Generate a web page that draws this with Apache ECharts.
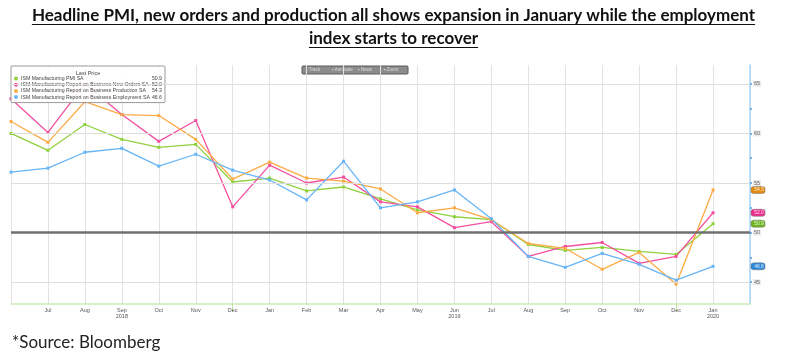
<!DOCTYPE html>
<html><head><meta charset="utf-8">
<script src="https://cdn.jsdelivr.net/npm/echarts@6/dist/echarts.min.js"></script>
<style>html,body{margin:0;padding:0;background:#fff}#c{width:787px;height:362px}</style>
</head><body><div id="c"></div>
<script>
const categories = ['Jun','Jul','Aug','Sep\n2018','Oct','Nov','Dec','Jan','Feb','Mar','Apr','May','Jun\n2019','Jul','Aug','Sep','Oct','Nov','Dec','Jan\n2020',''];
const seriesNames = ['ISM Manufacturing PMI SA','ISM Manufacturing Report on Business New Orders SA','ISM Manufacturing Report on Business Production SA','ISM Manufacturing Report on Business Employment SA'];
const pmi        = [60.0,58.3,60.9,59.4,58.6,58.9,55.1,55.5,54.2,54.6,53.4,52.3,51.6,51.3,48.8,48.2,48.5,48.1,47.8,50.9];
const newOrders  = [63.5,60.1,65.0,61.9,59.2,61.3,52.6,56.8,55.0,55.6,53.1,52.6,50.5,51.1,47.6,48.6,49.0,46.9,47.6,52.0];
const production = [61.2,59.1,63.2,61.9,61.8,59.4,55.4,57.1,55.5,55.2,54.4,52.0,52.5,51.3,48.9,48.4,46.3,48.0,44.8,54.3];
const employment = [56.1,56.5,58.1,58.5,56.7,57.9,56.3,55.3,53.3,57.2,52.5,53.1,54.3,51.4,47.6,46.5,47.9,46.8,45.2,46.6];
const lastPrices = ['50.9','52.0','54.3','46.6'];
const yTicks = [45,50,55,60,65];
const yMinorTicks = [45,47.5,50,52.5,55,57.5,60,62.5,65];
const titleLines = ['Headline PMI, new orders and production all shows expansion in January while the employment','index starts to recover'];
const sourceText = '*Source: Bloomberg';
const toolbarItems = ['Track','Annotate','News','Zoom'];

const colors = ['#8fd13f','#f4509f','#fbab45','#67b5f7'];
const tagColors = ['#6cb51f','#ec2d8c','#e48c10','#2e88dc'];
const allData = [pmi,newOrders,production,employment];

const chart = echarts.init(document.getElementById('c'), null, {renderer:'canvas'});

const cvs = document.createElement('canvas').getContext('2d');
function measure(text, font){ cvs.font = font; return cvs.measureText(text).width; }
const titleFont = 'bold 17px Lato';
const graphics = [];
const titleMid = [16, 38.5];
const underlineY = [24.5, 47.5];
titleLines.forEach((t,i)=>{
  const w = measure(t, titleFont);
  graphics.push({type:'text', x: 393.5, y: titleMid[i], style:{text:t, font:titleFont, fill:'#111', align:'center', verticalAlign:'middle'}});
  graphics.push({type:'line', shape:{x1:393.5-w/2, y1:underlineY[i], x2:393.5+w/2, y2:underlineY[i]}, style:{stroke:'#111', lineWidth:1}});
});
graphics.push({type:'text', x:12, y:342.5, style:{text:sourceText, font:'17px Lato', fill:'#222', verticalAlign:'middle'}});
// toolbar
graphics.push({type:'rect', shape:{x:302,y:66,width:106,height:8,r:1}, style:{fill:'#8c8c8c', stroke:'#5a5a5a', lineWidth:1}});
toolbarItems.forEach((t,i)=>{
  graphics.push({type:'text', left:306 + i*26, top:67.5, style:{text:'\u25aa '+t, font:'4.5px Liberation Sans', fill:'#ddd'}});
});
// legend title
graphics.push({type:'text', x:88, y:73, style:{text:'Last Price', font:'5.5px Liberation Sans', fill:'#444', align:'center', verticalAlign:'middle'}, z:100});

const series = allData.map((d,i)=>({
  name: seriesNames[i], type:'line', data:d, symbol:'rect', symbolSize:3, showSymbol:true,
  lineStyle:{color:colors[i], width:1.3}, itemStyle:{color:colors[i]}, z:3,
  markPoint:{symbol:'roundRect', symbolSize:[14,7], symbolOffset:[8,0], silent:true,
    itemStyle:{color:tagColors[i], borderColor:'#777', borderWidth:0.5},
    label:{show:true, formatter:lastPrices[i], fontSize:5, color:'rgba(255,255,255,0.85)', offset:[1,0]},
    data:[{coord:[20, d[d.length-1]]}]}
}));
series.push({type:'line', data:[], silent:true, z:1,
  markLine:{symbol:'none', silent:true, label:{show:false},
    data: yTicks.map(v=>({yAxis:v, lineStyle: v===50 ? {color:'#707070', width:2.5, type:'solid'} : {color:'#dedede', width:1, type:'solid'}}))}});

chart.setOption({
  animation:false,
  color: colors,
  grid:{left:11, right:37, top:65, bottom:58},
  legend:{
    data: seriesNames, orient:'vertical', left:11, top:66, itemGap:1.2,
    icon:'circle', itemWidth:4, itemHeight:4,
    backgroundColor:'rgba(255,255,255,0.9)', borderColor:'#9a9a9a', borderWidth:1, borderRadius:1,
    padding:[10,3,3,3],
    selectedMode:false,
    formatter: name => '{n|'+name+'}{v|'+lastPrices[seriesNames.indexOf(name)]+'}',
    textStyle:{fontSize:5.2, color:'#444', fontFamily:'Liberation Sans', padding:[0,0,0,-2],
      rich:{n:{width:129, fontSize:5.2, color:'#444'}, v:{width:12, align:'right', fontSize:5.2, color:'#444'}}}
  },
  xAxis:{type:'category', data:categories, boundaryGap:false,
    axisLine:{lineStyle:{color:'#cfeab4', width:1.5}},
    axisTick:{show:true, interval:(i)=> i===6 || i===18, length:8, lineStyle:{color:'#bfe39a'}},
    axisLabel:{interval:(i)=> i>0 && i<20, fontSize:5.5, color:'#555', lineHeight:6.5, margin:3, fontFamily:'Liberation Sans'},
    splitLine:{show:true, interval:0, lineStyle:{color:'#e2e2e2', width:1}}},
  yAxis:{type:'value', position:'right', min:42.8, max:66.9, splitLine:{show:false},
    axisLine:{show:true, lineStyle:{color:'#a9d5f7', width:1.5}},
    axisTick:{show:true, length:2, inside:false, customValues:yMinorTicks, lineStyle:{color:'#4d9de6', width:1.5}},
    axisLabel:{customValues:yTicks, fontSize:5.5, color:'#666', margin:3, backgroundColor:'#ececec', padding:[0,1], fontFamily:'Liberation Sans'}},
  graphic: graphics,
  series: series
});
</script></body></html>
